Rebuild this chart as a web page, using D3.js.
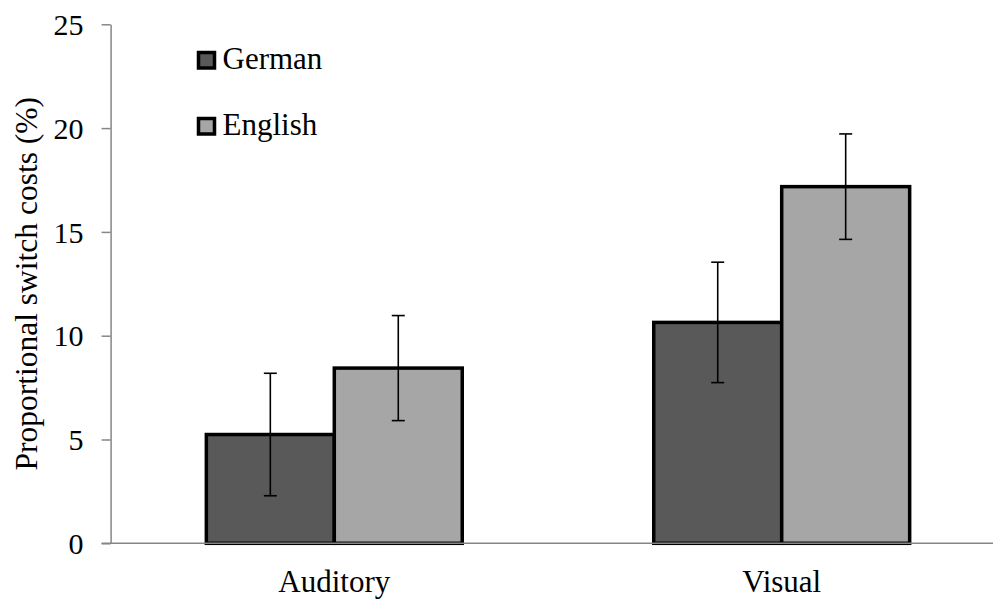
<!DOCTYPE html>
<html>
<head>
<meta charset="utf-8">
<script src="https://cdnjs.cloudflare.com/ajax/libs/d3/7.8.5/d3.min.js"></script>
<style>
  body { margin: 0; background: #fff; }
  text { font-family: "Liberation Serif", "Times New Roman", serif; fill: #000; }
</style>
</head>
<body>
<svg id="barchart" width="993" height="599"></svg>
<script>
// data
const categories = ["Auditory", "Visual"];
const seriesNames = ["German", "English"];
const germanValues = [5.24, 10.64];
const englishValues = [8.44, 17.18];
const germanErrors = [2.95, 2.9];
const englishErrors = [2.53, 2.54];
const yTicks = [0, 5, 10, 15, 20, 25];
const yTitle = "Proportional switch costs (%)";

const seriesColors = {"German": "#595959", "English": "#a6a6a6"};

const svg = d3.select("svg#barchart");
const margin = {top: 24.3, left: 110.6, bottom: 55.7};
const plotWidth = 894.8;
const plotHeight = 599 - margin.top - margin.bottom;

// rows built from the arrays above
const rows = categories.map((c, i) => ({
    category: c,
    bars: [
        {name: "German", value: germanValues[i], err: germanErrors[i]},
        {name: "English", value: englishValues[i], err: englishErrors[i]}
    ]
}));

const x0 = d3.scaleBand().domain(categories)
    .range([margin.left, margin.left + plotWidth])
    .paddingInner(0.428).paddingOuter(0.214);
const x1 = d3.scaleBand().domain(seriesNames).range([0, x0.bandwidth()]).padding(0);
const y = d3.scaleLinear().domain([0, 25]).range([margin.top + plotHeight, margin.top]);

// y axis
let leftAxis = d3.axisLeft(y).tickValues(yTicks).tickSize(9).tickSizeOuter(0).tickPadding(18);
let yAxisG = svg.append("g")
    .attr("transform", `translate(${margin.left},0)`)
    .call(leftAxis);
yAxisG.select(".domain").attr("stroke", "#868686").attr("stroke-width", 1.5);
yAxisG.selectAll(".tick line").attr("stroke", "#868686").attr("stroke-width", 1.5);
yAxisG.selectAll(".tick text")
    .style("font-family", "'Liberation Serif', 'Times New Roman', serif")
    .style("font-size", "30px")
    .attr("dy", "0.34em")
    .attr("fill", "#000");

// y title
svg.append("text")
    .attr("transform", `translate(37,${y(12.5)}) rotate(-90)`)
    .attr("text-anchor", "middle")
    .style("font-size", "31.5px")
    .text(yTitle);

// bars
let groups = svg.append("g").selectAll("g.cat").data(rows)
    .join("g").attr("class", "cat")
    .attr("transform", d => `translate(${x0(d.category)},0)`);

groups.selectAll("rect").data(d => d.bars)
    .join("rect")
    .attr("x", d => x1(d.name))
    .attr("y", d => y(d.value))
    .attr("width", x1.bandwidth())
    .attr("height", d => y(0) - y(d.value))
    .attr("fill", d => seriesColors[d.name])
    .attr("stroke", "#000")
    .attr("stroke-width", 3.5);

// x axis line
svg.append("line")
    .attr("x1", margin.left - 9).attr("x2", margin.left + plotWidth)
    .attr("y1", y(0)).attr("y2", y(0))
    .attr("stroke", "#868686").attr("stroke-width", 1.5);

// error bars
let errG = groups.selectAll("g.err").data(d => d.bars)
    .join("g").attr("class", "err")
    .attr("transform", d => `translate(${x1(d.name) + x1.bandwidth() / 2},0)`);
errG.append("line")
    .attr("y1", d => y(d.value - d.err)).attr("y2", d => y(d.value + d.err))
    .attr("stroke", "#000").attr("stroke-width", 1.6);
errG.selectAll("line.cap").data(d => [d.value - d.err, d.value + d.err])
    .join("line").attr("class", "cap")
    .attr("x1", -6.5).attr("x2", 6.5)
    .attr("y1", v => y(v)).attr("y2", v => y(v))
    .attr("stroke", "#000").attr("stroke-width", 1.6);

// category labels
svg.append("g").selectAll("text").data(categories)
    .join("text")
    .attr("x", d => x0(d) + x0.bandwidth() / 2)
    .attr("y", 591.5)
    .attr("text-anchor", "middle")
    .style("font-size", "31px")
    .text(d => d);

// legend
let legend = svg.append("g").attr("transform", "translate(198.5,52.5)");
let legendItems = legend.selectAll("g").data(seriesNames)
    .join("g").attr("transform", (d, i) => `translate(0,${i * 66})`);
legendItems.append("rect")
    .attr("width", 16).attr("height", 15.5)
    .attr("fill", d => seriesColors[d])
    .attr("stroke", "#000").attr("stroke-width", 3.5);
legendItems.append("text")
    .attr("x", 24).attr("y", 16.8)
    .style("font-size", "31px")
    .text(d => d);
</script>
</body>
</html>
